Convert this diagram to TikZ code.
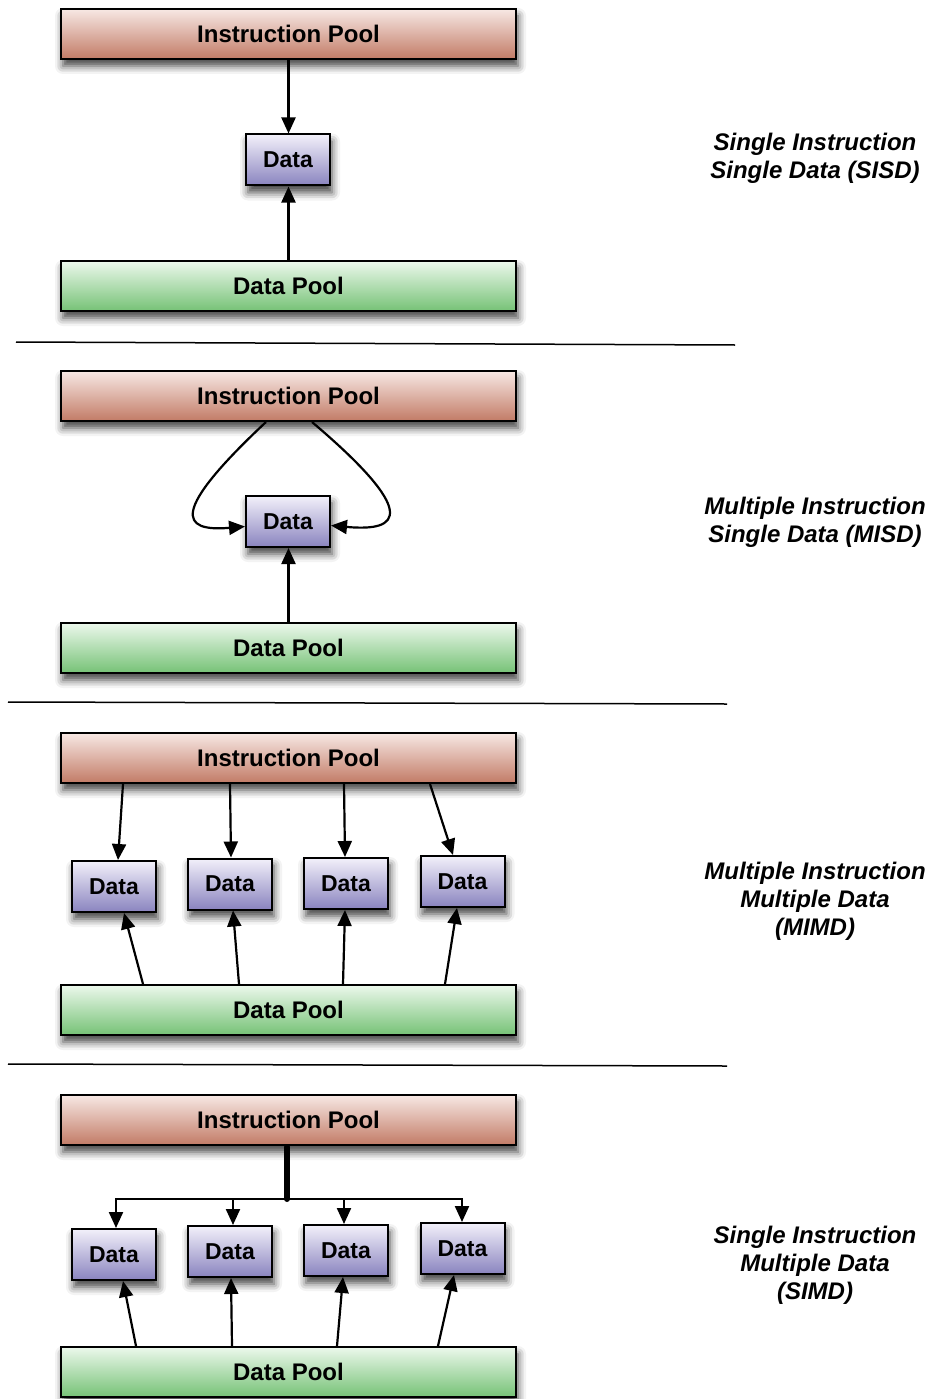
\documentclass[tikz,border=0pt]{standalone}
\usepackage{fontspec}
\setmainfont{Liberation Sans}
\usetikzlibrary{arrows.meta,shadows.blur,calc}

\definecolor{ipTop}{HTML}{F7E8E4}
\definecolor{ipBot}{HTML}{C27B66}
\definecolor{dTop}{HTML}{F2F0FA}
\definecolor{dBot}{HTML}{8A84BF}
\definecolor{dpTop}{HTML}{ECF8EC}
\definecolor{dpBot}{HTML}{76C276}

\begin{document}
\begin{tikzpicture}[x=1pt,y=-1pt,
  box/.style={draw=black, line width=2pt, inner sep=0pt,
    blur shadow={shadow xshift=2pt, shadow yshift=-7pt,
      shadow blur radius=8pt, shadow opacity=75}},
  pooltext/.style={font=\bfseries\fontsize{24}{28}\selectfont},
  ipool/.style={box, pooltext, minimum width=455pt, minimum height=50pt,
    top color=ipTop, bottom color=ipBot},
  dpool/.style={box, pooltext, minimum width=455pt, minimum height=50pt,
    top color=dpTop, bottom color=dpBot},
  dbox/.style={box, font=\bfseries\fontsize{23}{28}\selectfont,
    minimum width=84pt, minimum height=51pt,
    top color=dTop, bottom color=dBot},
  flow/.style={-{Triangle[length=16pt,width=14pt]}, line width=2.2pt},
  sep/.style={line width=1.5pt},
  lbl/.style={align=center, font=\bfseries\itshape\fontsize{24}{28}\selectfont}]

\useasboundingbox (0,0) rectangle (931,1399);

% ---------------- SISD ----------------
\node[ipool] (ip1) at (288.5,34) {Instruction Pool};
\node[dbox]  (d1)  at (288,160) {Data};
\node[dpool] (dp1) at (288.5,286) {Data Pool};
\draw[flow] (ip1.south) -- (ip1.south |- d1.north);
\draw[flow] (dp1.north) -- (dp1.north |- d1.south);
\node[lbl] (l1) at (815,158) {Single Instruction\\Single Data (SISD)};

\coordinate (s1a) at (16,342);
\coordinate (s1b) at (735,345);
\draw[sep] (s1a) -- (s1b);

% ---------------- MISD ----------------
\node[ipool] (ip2) at (288.5,396) {Instruction Pool};
\node[dbox]  (d2)  at (288,521.5) {Data};
\node[dpool] (dp2) at (288.5,648) {Data Pool};
\draw[flow] ($(ip2.south)+(-22.5,0)$) .. controls (170,512) and (180,532) .. ($(d2.west)+(0,5)$);
\draw[flow] ($(ip2.south)+(23.5,0)$) .. controls (418,512) and (402,532) .. ($(d2.east)+(0,4)$);
\draw[flow] (dp2.north) -- (dp2.north |- d2.south);
\node[lbl] (l2) at (815,522) {Multiple Instruction\\Single Data (MISD)};

\coordinate (s2a) at (8,702);
\coordinate (s2b) at (727,704);
\draw[sep] (s2a) -- (s2b);

% ---------------- MIMD ----------------
\node[ipool] (ip3) at (288.5,758) {Instruction Pool};
\node[dbox]  (d31) at (114,886.5) {Data};
\node[dbox]  (d32) at (230,884) {Data};
\node[dbox]  (d33) at (346,883.5) {Data};
\node[dbox]  (d34) at (462.5,881.5) {Data};
\node[dpool] (dp3) at (288.5,1010) {Data Pool};

\draw[flow] ($(ip3.south west)+(63,0)$)  -- ($(d31.north)+(4,0)$);
\draw[flow] ($(ip3.south west)+(170,0)$) -- ($(d32.north)+(1,0)$);
\draw[flow] ($(ip3.south west)+(284,0)$) -- ($(d33.north)+(-1,0)$);
\draw[flow] ($(ip3.south west)+(370,0)$) -- ($(d34.north)+(-9.5,0)$);

\draw[flow] ($(dp3.north west)+(83,0)$)  -- ($(d31.south)+(10,0)$);
\draw[flow] ($(dp3.north west)+(179,0)$) -- ($(d32.south)+(3,0)$);
\draw[flow] ($(dp3.north west)+(283,0)$) -- ($(d33.south)+(-1,0)$);
\draw[flow] ($(dp3.north west)+(385,0)$) -- ($(d34.south)+(-5.5,0)$);
\node[lbl] (l3) at (815,901) {Multiple Instruction\\Multiple Data\\(MIMD)};

\coordinate (s3a) at (8,1064);
\coordinate (s3b) at (727,1066);
\draw[sep] (s3a) -- (s3b);

% ---------------- SIMD ----------------
\node[ipool] (ip4) at (288.5,1120) {Instruction Pool};
\node[dbox]  (d41) at (114,1254.5) {Data};
\node[dbox]  (d42) at (230,1251.5) {Data};
\node[dbox]  (d43) at (346,1250.5) {Data};
\node[dbox]  (d44) at (462.5,1248.5) {Data};
\node[dpool] (dp4) at (288.5,1372) {Data Pool};

% broadcast bus
\coordinate (bus) at ($(ip4.south)+(-1.5,53)$);
\coordinate (t41) at ($(d41.north)+(2,0)$);
\coordinate (t42) at ($(d42.north)+(3,0)$);
\coordinate (t43) at ($(d43.north)+(-2,0)$);
\coordinate (t44) at ($(d44.north)+(-0.5,0)$);
\draw[flow] (bus) -| (t41);
\draw[flow] (bus) -| (t44);
\draw[flow] (t42 |- bus) -- (t42);
\draw[flow] (t43 |- bus) -- (t43);
\draw[line width=6pt, line cap=round] ($(ip4.south)+(-1.5,1)$) -- (bus);

\draw[flow] ($(dp4.north west)+(76,0)$)  -- ($(d41.south)+(9,0)$);
\draw[flow] ($(dp4.north west)+(172,0)$) -- ($(d42.south)+(1,0)$);
\draw[flow] ($(dp4.north west)+(277,0)$) -- ($(d43.south)+(-3,0)$);
\draw[flow] ($(dp4.north west)+(378,0)$) -- ($(d44.south)+(-8.5,0)$);
\node[lbl] (l4) at (815,1265) {Single Instruction\\Multiple Data\\(SIMD)};

\end{tikzpicture}
\end{document}
